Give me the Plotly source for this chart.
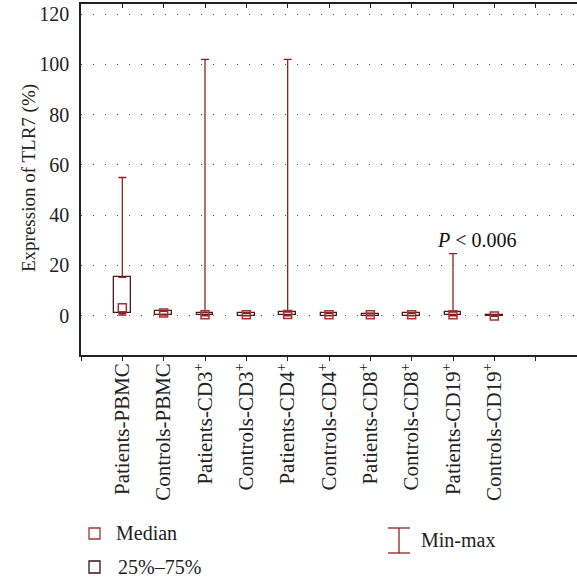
import plotly.graph_objects as go

categories = ["Patients-PBMC", "Controls-PBMC", "Patients-CD3<sup>+</sup>", "Controls-CD3<sup>+</sup>",
              "Patients-CD4<sup>+</sup>", "Controls-CD4<sup>+</sup>", "Patients-CD8<sup>+</sup>",
              "Controls-CD8<sup>+</sup>", "Patients-CD19<sup>+</sup>", "Controls-CD19<sup>+</sup>"]
mins    = [0.3, 0.3, 0.0, 0.0, 0.0, 0.0, 0.0, 0.0, 0.0, -0.2]
q1      = [1.0, 0.5, 0.2, 0.1, 0.2, 0.1, 0.1, 0.1, 0.2, -0.2]
medians = [3.2, 1.1, 0.4, 0.4, 0.5, 0.4, 0.4, 0.4, 0.4, -0.1]
q3      = [15.3, 1.8, 1.3, 1.0, 1.5, 1.0, 0.8, 1.0, 1.5, 0.2]
maxs    = [55.0, 2.0, 102.0, 1.2, 102.0, 1.2, 1.0, 1.2, 24.7, 0.3]
y_ticks = [0, 20, 40, 60, 80, 100, 120]

FONT = "Liberation Serif"
FS = 20
BOX_C = "#4a1c1c"
WHISK_C = "#8e2323"
MED_C = "#a83232"
TXT = "#222"

xs = list(range(len(categories)))
fig = go.Figure()

# upper whiskers
fig.add_trace(go.Scatter(
    x=xs, y=q3, mode="markers", marker=dict(size=1, color="rgba(0,0,0,0)"),
    error_y=dict(type="data", symmetric=False,
                 array=[m - q for m, q in zip(maxs, q3)],
                 arrayminus=[0] * len(xs), color=WHISK_C, thickness=1.3, width=4),
    showlegend=False, hoverinfo="skip"))
# lower whiskers
fig.add_trace(go.Scatter(
    x=xs, y=q1, mode="markers", marker=dict(size=1, color="rgba(0,0,0,0)"),
    error_y=dict(type="data", symmetric=False,
                 array=[0] * len(xs),
                 arrayminus=[q - m for q, m in zip(q1, mins)], color=WHISK_C, thickness=1.3, width=4),
    showlegend=False, hoverinfo="skip"))
# boxes
fig.add_trace(go.Bar(
    x=xs, y=[b - a for a, b in zip(q1, q3)], base=q1, width=0.4,
    marker=dict(color="rgba(255,255,255,1)", line=dict(color=BOX_C, width=1.3)),
    showlegend=False, hoverinfo="skip"))
# medians
fig.add_trace(go.Scatter(
    x=xs, y=medians, mode="markers",
    marker=dict(symbol="square-open", size=8, color=MED_C, line=dict(width=1.5, color=MED_C)),
    showlegend=False, hoverinfo="skip"))

W, H = 577, 580
L, R, T, B = 81, 0, 4, 225
pw, ph = W - L - R, H - T - B

def px(x):
    return (x - L) / pw

def py(y):
    return (H - B - y) / ph

shapes = [
    dict(type="rect", xref="paper", yref="paper", x0=px(89), x1=px(100), y0=py(539), y1=py(528),
         line=dict(color=MED_C, width=1.3)),
    dict(type="rect", xref="paper", yref="paper", x0=px(89), x1=px(100), y0=py(573), y1=py(561),
         line=dict(color="#3a1515", width=1.3)),
    dict(type="line", xref="paper", yref="paper", x0=px(399), x1=px(399), y0=py(553), y1=py(528),
         line=dict(color=WHISK_C, width=1.3)),
    dict(type="line", xref="paper", yref="paper", x0=px(388), x1=px(410), y0=py(528), y1=py(528),
         line=dict(color=WHISK_C, width=1.3)),
    dict(type="line", xref="paper", yref="paper", x0=px(388), x1=px(410), y0=py(553), y1=py(553),
         line=dict(color=WHISK_C, width=1.3)),
]
annotations = [
    dict(text="Median", xref="paper", yref="paper", x=px(114), y=py(533), xanchor="left", yanchor="middle",
         showarrow=False, font=dict(family=FONT, size=FS, color=TXT)),
    dict(text="25%–75%", xref="paper", yref="paper", x=px(116), y=py(567), xanchor="left", yanchor="middle",
         showarrow=False, font=dict(family=FONT, size=FS, color=TXT)),
    dict(text="Min-max", xref="paper", yref="paper", x=px(419), y=py(540), xanchor="left", yanchor="middle",
         showarrow=False, font=dict(family=FONT, size=FS, color=TXT)),
    dict(text="<i>P</i> < 0.006", x=8.58, y=30, xref="x", yref="y", showarrow=False,
         font=dict(family=FONT, size=FS, color="#111")),
    dict(text="Expression of TLR7 (%)", xref="paper", yref="paper", x=px(29), y=py(178),
         xanchor="center", yanchor="middle", textangle=-90, showarrow=False,
         font=dict(family=FONT, size=19, color=TXT)),
]

fig.update_layout(
    width=W, height=H, margin=dict(l=L, r=R, t=T, b=B, autoexpand=False),
    paper_bgcolor="white", plot_bgcolor="white",
    font=dict(family=FONT, size=FS, color=TXT),
    shapes=shapes, annotations=annotations, bargap=0,
    xaxis=dict(range=[-1, 11], tickmode="array", tickvals=list(range(-1, 12)),
               ticktext=[""] + categories + [""], tickangle=-90, automargin=False,
               showgrid=False, zeroline=False, showline=True, linecolor=TXT, linewidth=1.5,
               ticks="outside", ticklen=4, tickcolor=TXT, ticklabelstandoff=-6,
               tickfont=dict(family=FONT, size=21, color=TXT)),
    xaxis2=dict(range=[-1, 11], overlaying="x", side="top", tickmode="array", tickvals=list(range(-1, 12)),
                showticklabels=False, showgrid=False, zeroline=False, showline=True, linecolor=TXT,
                linewidth=1.5, ticks="inside", ticklen=4, tickcolor=TXT, automargin=False),
    yaxis=dict(range=[-15.6, 124], tickmode="array", tickvals=y_ticks, showgrid=True,
               gridcolor="#555", griddash="1px,11px", gridwidth=1, zeroline=False, automargin=False,
               showline=True, linecolor=TXT, linewidth=1.5, ticks="", ticklabelstandoff=6,
               tickfont=dict(family=FONT, size=FS, color=TXT)),
)
fig.add_trace(go.Scatter(x=[None], y=[None], xaxis="x2", showlegend=False, hoverinfo="skip"))

fig.write_html("out.html", config={"displayModeBar": False},
               post_script="document.body.style.margin='0px';document.body.style.overflow='hidden';")
